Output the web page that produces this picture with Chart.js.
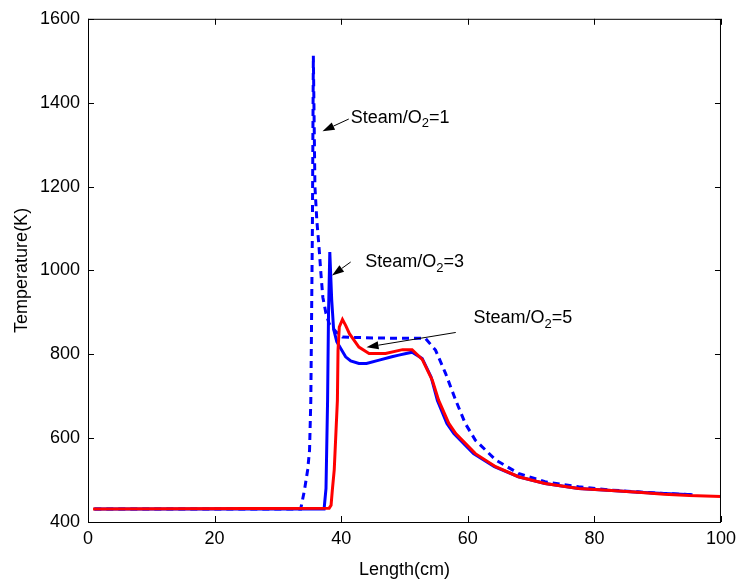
<!DOCTYPE html>
<html>
<head>
<meta charset="utf-8">
<title>Temperature profile</title>
<script src="https://cdn.jsdelivr.net/npm/chart.js@4.4.1/dist/chart.umd.min.js"></script>
<style>
  html, body { margin: 0; padding: 0; background: #fff; }
</style>
</head>
<body>
<canvas id="tempChart" width="742" height="584"></canvas>
<script>
// tick values
const xTicks = [0, 20, 40, 60, 80, 100];
const yTicks = [400, 600, 800, 1000, 1200, 1400, 1600];

// Steam/O2 = 1 (blue dashed)
const lenS1 = [1, 33.6, 34.2, 34.7, 35.0, 35.2, 35.3, 35.45, 35.6, 35.85, 36.15, 36.5, 36.8, 37.1, 37.6, 38.1, 39.2, 40.2, 45, 50, 53.3, 54.9, 56.5, 58.1, 59.6, 61.2, 64.4, 68, 72.2, 77.5, 82.7, 86.9, 91, 95.6];
const tempS1 = [431, 431, 476, 524, 571, 690, 849, 1100, 1512, 1200, 1119, 1055, 992, 936, 897, 873, 853, 841, 839, 838, 838, 810, 754, 690, 635, 595, 548, 516, 496, 484, 476, 472, 468, 465];

// Steam/O2 = 3 (blue solid)
const lenS3 = [1, 37.3, 37.6, 37.85, 38.0, 38.2, 38.5, 38.8, 39.3, 40.0, 40.7, 41.5, 42.8, 44, 46, 48, 49.1, 51.2, 52.8, 54.2, 55.2, 56.7, 57.8, 60.9, 64.2, 68, 72.2, 77.5, 82.7, 86.9, 91, 95.5];
const tempS3 = [431, 431, 480, 690, 900, 1044, 930, 860, 830, 812, 794, 784, 778, 778, 786, 794, 798, 805, 790, 746, 690, 635, 611, 563, 532, 508, 492, 480, 475, 471, 468, 465];

// Steam/O2 = 5 (red solid)
const lenS5 = [0.8, 38.1, 38.4, 38.6, 38.9, 39.4, 39.5, 39.7, 40.2, 40.7, 41.3, 42.8, 44.4, 47, 49.7, 51.2, 52.8, 54.4, 55.4, 57, 58.1, 61.2, 64.4, 68, 72.2, 77.5, 82.7, 86.9, 91, 95, 100];
const tempS5 = [431, 433, 440, 476, 524, 690, 810, 865, 883, 869, 849, 817, 802, 802, 811, 811, 788, 738, 690, 635, 611, 563, 532, 508, 492, 480, 475, 471, 466, 463, 461];

// arrow notes, in axis units
const noteLabels = ['1', '3', '5'];
const noteTextX = [41.5, 43.8, 60.9];
const noteTextY = [1364, 1019, 886];
const noteTailX = [41.2, 41.5, 58.1];
const noteTailY = [1361, 1020, 852];
const noteHeadX = [37.05, 38.55, 44.0];
const noteHeadY = [1332, 988, 817];

const toPoints = (xs, ys) => xs.map((v, i) => ({ x: v, y: ys[i] }));

const FONT = '"Liberation Sans", Arial, sans-serif';

// frame with inward ticks on all sides, plus the arrow notes
const frameAndNotes = {
  id: 'frameAndNotes',
  afterDraw(chart) {
    const { ctx, chartArea: a, scales: { x, y } } = chart;
    ctx.save();
    ctx.strokeStyle = '#000';
    ctx.lineWidth = 1;
    ctx.strokeRect(a.left + 0.5, a.top + 0.5, a.right - a.left - 1, a.bottom - a.top);
    ctx.beginPath();
    xTicks.forEach(v => {
      const px = Math.round(x.getPixelForValue(v)) + 0.5;
      ctx.moveTo(px, a.bottom); ctx.lineTo(px, a.bottom - 6);
      ctx.moveTo(px, a.top); ctx.lineTo(px, a.top + 6);
    });
    yTicks.forEach(v => {
      const py = Math.round(y.getPixelForValue(v)) + 0.5;
      ctx.moveTo(a.left, py); ctx.lineTo(a.left + 6, py);
      ctx.moveTo(a.right, py); ctx.lineTo(a.right - 6, py);
    });
    ctx.stroke();

    noteLabels.forEach((lab, i) => {
      const tx = x.getPixelForValue(noteTailX[i]), ty = y.getPixelForValue(noteTailY[i]);
      const hx = x.getPixelForValue(noteHeadX[i]), hy = y.getPixelForValue(noteHeadY[i]);
      const ang = Math.atan2(hy - ty, hx - tx);
      const len = 12, half = 4;
      const bx = hx - len * Math.cos(ang), by = hy - len * Math.sin(ang);
      ctx.beginPath();
      ctx.moveTo(tx, ty); ctx.lineTo(bx, by);
      ctx.stroke();
      ctx.beginPath();
      ctx.moveTo(hx, hy);
      ctx.lineTo(bx + half * Math.sin(ang), by - half * Math.cos(ang));
      ctx.lineTo(bx - half * Math.sin(ang), by + half * Math.cos(ang));
      ctx.closePath();
      ctx.fillStyle = '#000';
      ctx.fill();

      // Steam/O2=n with subscript 2
      let px = x.getPixelForValue(noteTextX[i]);
      const py = y.getPixelForValue(noteTextY[i]);
      ctx.textBaseline = 'middle';
      ctx.textAlign = 'left';
      ctx.font = '18px ' + FONT;
      ctx.fillText('Steam/O', px, py);
      px += ctx.measureText('Steam/O').width;
      ctx.font = '13px ' + FONT;
      ctx.fillText('2', px, py + 6);
      px += ctx.measureText('2').width;
      ctx.font = '18px ' + FONT;
      ctx.fillText('=' + lab, px, py);
    });
    ctx.restore();
  }
};

const ctx = document.getElementById('tempChart').getContext('2d');
const chart = new Chart(ctx, {
  type: 'line',
  data: {
    datasets: [
      {
        label: 'Steam/O2=5',
        data: toPoints(lenS5, tempS5),
        borderColor: '#ff0000',
        borderWidth: 3
      },
      {
        label: 'Steam/O2=3',
        data: toPoints(lenS3, tempS3),
        borderColor: '#0000ff',
        borderWidth: 3
      },
      {
        label: 'Steam/O2=1',
        data: toPoints(lenS1, tempS1),
        borderColor: '#0000ff',
        borderWidth: 3,
        borderDash: [7, 5]
      }
    ]
  },
  options: {
    responsive: false,
    animation: false,
    devicePixelRatio: 1,
    elements: { point: { radius: 0 }, line: { tension: 0, fill: false } },
    layout: { padding: { top: 18, right: 19, left: 0, bottom: 0 } },
    plugins: { legend: { display: false }, tooltip: { enabled: false } },
    scales: {
      x: {
        type: 'linear',
        min: 0,
        max: 100,
        ticks: { stepSize: 20, padding: 6, color: '#000', font: { family: FONT, size: 18 }, maxRotation: 0, callback: v => String(v) },
        grid: { display: false, drawTicks: false },
        border: { display: false },
        title: { display: true, text: 'Length(cm)', color: '#000', font: { family: FONT, size: 18 }, padding: { top: 0, bottom: 3 } },
        afterFit(s) { s.height = 62; }
      },
      y: {
        min: 400,
        max: 1600,
        ticks: { stepSize: 200, padding: 8, color: '#000', font: { family: FONT, size: 18 }, callback: v => String(v) },
        grid: { display: false, drawTicks: false },
        border: { display: false },
        title: { display: true, text: 'Temperature(K)', color: '#000', font: { family: FONT, size: 18 }, padding: { top: 11, bottom: 0 } },
        afterFit(s) { s.width = 88; }
      }
    }
  },
  plugins: [frameAndNotes]
});
</script>
</body>
</html>
